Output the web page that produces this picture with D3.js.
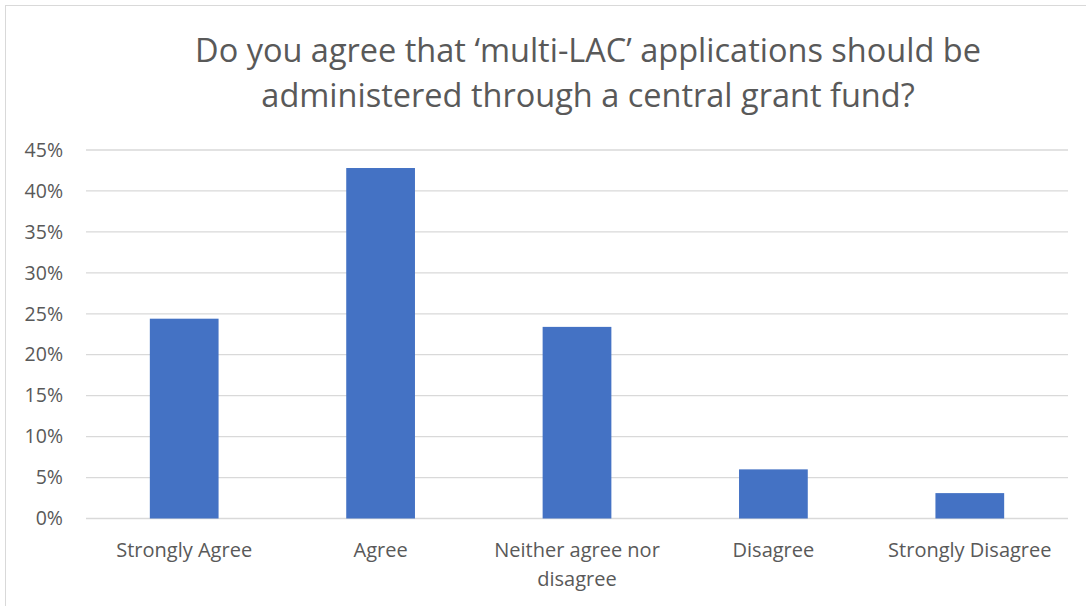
<!DOCTYPE html>
<html><head><meta charset="utf-8">
<script src="https://cdn.jsdelivr.net/npm/d3@7"></script>
<style>body{margin:0;background:#fff}svg{display:block}text{font-family:"Open Sans","Noto Sans",sans-serif;fill:#595959}</style>
</head><body><svg id="c" width="1086" height="606"></svg>
<script>
const categories = ["Strongly Agree","Agree","Neither agree nor disagree","Disagree","Strongly Disagree"];
const values = [0.244, 0.428, 0.234, 0.060, 0.031];
const yTicks = [0,0.05,0.10,0.15,0.20,0.25,0.30,0.35,0.40,0.45];
const titleLines = ["Do you agree that \u2018multi-LAC\u2019 applications should be","administered through a central grant fund?"];

const svg = d3.select("#c");
svg.append("rect").attr("x",5.5).attr("y",5.5).attr("width",1090).attr("height",610).attr("fill","#fff").attr("stroke","#d9d9d9");

const L=86, R=1068, T=150, B=518.5;
const x = d3.scaleBand().domain(categories).range([L,R]).paddingInner(0.65).paddingOuter(0.325);
const y = d3.scaleLinear().domain([0,0.45]).range([B,T]);

const grid = svg.append("g");
grid.selectAll("line").data(yTicks).join("line")
  .attr("x1",L).attr("x2",R).attr("y1",d=>y(d)).attr("y2",d=>y(d))
  .attr("stroke","#d9d9d9").attr("stroke-width",1.3);

const yAxis = svg.append("g").attr("transform",`translate(${L},0)`)
  .call(d3.axisLeft(y).tickValues(yTicks).tickFormat(d3.format(".0%")).tickSize(0).tickPadding(23));
yAxis.select(".domain").remove();
yAxis.selectAll("text").style("font-size","19.5px").attr("fill","#595959");

svg.append("g").selectAll("rect").data(values).join("rect")
  .attr("x",(d,i)=>x(categories[i])).attr("width",x.bandwidth())
  .attr("y",d=>y(d)).attr("height",d=>B-y(d))
  .attr("fill","#4472c4");

const xAxis = svg.append("g").attr("transform",`translate(0,${B})`)
  .call(d3.axisBottom(x).tickSize(0).tickPadding(0));
xAxis.select(".domain").remove();
xAxis.selectAll("text").remove();
const wrapW = 190;
xAxis.selectAll(".tick").each(function(d){
  const g=d3.select(this);
  const t=g.append("text").attr("text-anchor","middle").style("font-size","20px").attr("fill","#595959");
  const words=d.split(" "); let line=[]; let lines=[];
  const tmp=t.append("tspan");
  words.forEach(w=>{line.push(w); tmp.text(line.join(" ")); if(tmp.node().getComputedTextLength()>wrapW && line.length>1){line.pop(); lines.push(line.join(" ")); line=[w];}});
  lines.push(line.join(" ")); tmp.remove();
  lines.forEach((s,i)=>t.append("tspan").attr("x",0).attr("y",38+i*29).text(s));
});

const title = svg.append("text").attr("text-anchor","middle").style("font-size","32.5px");
titleLines.forEach((s,i)=>title.append("tspan").attr("x",588).attr("y",62+i*45).text(s));
</script></body></html>
